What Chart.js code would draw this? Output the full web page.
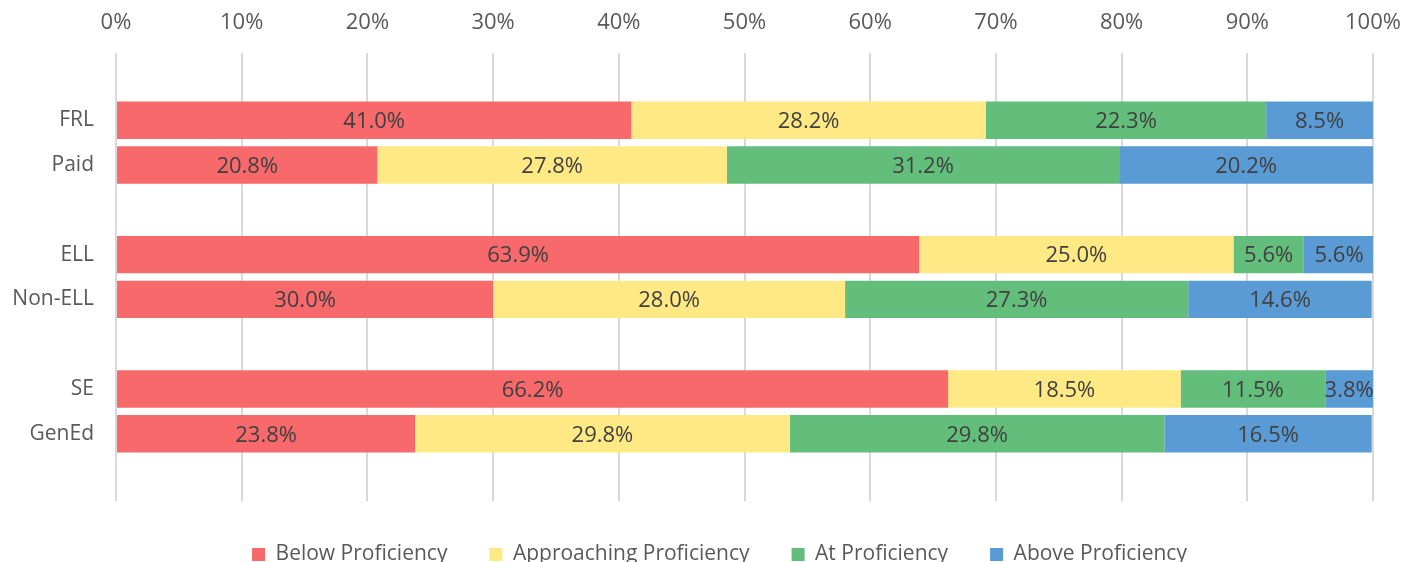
<!DOCTYPE html>
<html>
<head>
<meta charset="utf-8">
<script src="https://cdn.jsdelivr.net/npm/chart.js@4/dist/chart.umd.min.js"></script>
<style>
  html, body { margin: 0; padding: 0; background: #ffffff; }
  #wrap { width: 1407px; height: 562px; position: relative; }
</style>
</head>
<body>
<div id="wrap"><canvas id="c" width="1407" height="562"></canvas></div>
<script>
const categories = ['', 'FRL', 'Paid', '', 'ELL', 'Non-ELL', '', 'SE', 'GenEd', ''];
const belowProficiency       = [null, 41.0, 20.8, null, 63.9, 30.0, null, 66.2, 23.8, null];
const approachingProficiency = [null, 28.2, 27.8, null, 25.0, 28.0, null, 18.5, 29.8, null];
const atProficiency          = [null, 22.3, 31.2, null, 5.6, 27.3, null, 11.5, 29.8, null];
const aboveProficiency       = [null, 8.5, 20.2, null, 5.6, 14.6, null, 3.8, 16.5, null];
const seriesNames = ['Below Proficiency', 'Approaching Proficiency', 'At Proficiency', 'Above Proficiency'];
const xTicks = [0, 10, 20, 30, 40, 50, 60, 70, 80, 90, 100];

const FONT = "'Open Sans', 'Liberation Sans', sans-serif";
const FS = 22;

const dataLabelPlugin = {
  id: 'dataLabels',
  afterDatasetsDraw(chart) {
    const ctx = chart.ctx;
    ctx.save();
    ctx.font = FS + 'px ' + FONT;
    ctx.fillStyle = '#404040';
    ctx.textAlign = 'center';
    ctx.textBaseline = 'middle';
    chart.data.datasets.forEach((ds, di) => {
      const meta = chart.getDatasetMeta(di);
      meta.data.forEach((el, i) => {
        const v = ds.data[i];
        if (v === null || v === undefined) return;
        const cx = (el.x + el.base) / 2;
        ctx.fillText(v.toFixed(1) + '%', cx, el.y + 1.5);
      });
    });
    ctx.restore();
  }
};

const legendShift = {
  id: 'legendShift',
  afterLayout(chart) {
    const lg = chart.legend;
    if (lg) { lg.left += 33; lg.right += 33; lg.top += 1; lg.bottom += 1; }
  }
};

new Chart(document.getElementById('c'), {
  type: 'bar',
  data: {
    labels: categories,
    datasets: [
      { label: seriesNames[0], data: belowProficiency, backgroundColor: '#F8696B' },
      { label: seriesNames[1], data: approachingProficiency, backgroundColor: '#FFE984' },
      { label: seriesNames[2], data: atProficiency, backgroundColor: '#63BE7B' },
      { label: seriesNames[3], data: aboveProficiency, backgroundColor: '#5A9BD5' }
    ]
  },
  options: {
    indexAxis: 'y',
    responsive: false,
    animation: false,
    devicePixelRatio: 1,
    layout: { padding: { top: 6, right: 34, left: 0, bottom: -12 } },
    datasets: { bar: { barPercentage: 0.835, categoryPercentage: 1.0, borderWidth: 0 } },
    scales: {
      x: {
        position: 'top',
        stacked: true,
        min: 0, max: 100,
        afterBuildTicks(scale) { scale.ticks = xTicks.map(v => ({ value: v })); },
        ticks: {
          callback: v => v + '%',
          color: '#595959',
          font: { family: FONT, size: FS },
          padding: 17,
          maxRotation: 0
        },
        grid: { color: '#d9d9d9', lineWidth: 2, drawTicks: false },
        border: { display: false },
        afterFit(scale) { scale.height = 47; scale.paddingRight = 0; scale.paddingLeft = 0; }
      },
      y: {
        stacked: true,
        ticks: {
          color: '#595959',
          font: { family: FONT, size: FS - 1 },
          padding: 22
        },
        grid: { display: false, drawTicks: false },
        border: { display: false },
        afterFit(scale) { scale.width = 116; }
      }
    },
    plugins: {
      legend: {
        position: 'bottom',
        labels: {
          color: '#595959',
          font: { family: FONT, size: FS - 1 },
          boxWidth: 13,
          boxHeight: 13,
          padding: 42
        }
      },
      tooltip: { enabled: false }
    }
  },
  plugins: [dataLabelPlugin, legendShift]
});
</script>
</body>
</html>
